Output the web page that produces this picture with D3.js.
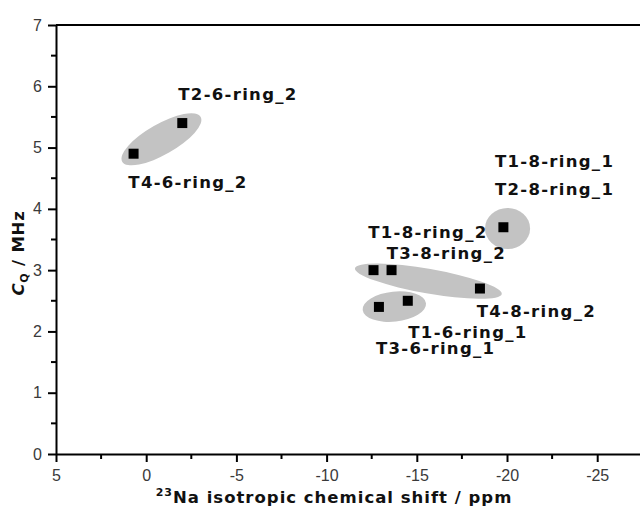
<!DOCTYPE html>
<html>
<head>
<meta charset="utf-8">
<script src="https://cdn.jsdelivr.net/npm/d3@7"></script>
<style>
  html, body { margin: 0; padding: 0; background: #fff; }
  svg { display: block; }
</style>
</head>
<body>
<svg id="chart" width="640" height="507"></svg>
<script>
// 23Na NMR parameters for the Na sites (isotropic shift in ppm, quadrupolar coupling CQ in MHz)
const siteNames = ["T4-6-ring_2", "T2-6-ring_2", "T1/T2-8-ring_1",
                   "T1-8-ring_2", "T3-8-ring_2", "T4-8-ring_2",
                   "T3-6-ring_1", "T1-6-ring_1"];
const isoShift = [0.7, -2.0, -19.8, -12.6, -13.6, -18.5, -12.9, -14.5];
const cq       = [4.9, 5.4, 3.7, 3.0, 3.0, 2.7, 2.4, 2.5];

// Site labels and the data coordinates where each label starts (baseline)
const labelText = ["T2-6-ring_2", "T4-6-ring_2", "T1-8-ring_1", "T2-8-ring_1",
                   "T1-8-ring_2", "T3-8-ring_2", "T4-8-ring_2", "T1-6-ring_1", "T3-6-ring_1"];
const labelX = [-1.78, 0.99, -19.33, -19.33, -12.31, -13.33, -18.32, -14.53, -12.74];
const labelY = [5.78, 4.34, 4.69, 4.22, 3.52, 3.18, 2.24, 1.90, 1.63];

// Shaded groups: ends of the long axis (ppm, MHz) and half-width (MHz)
const groupX0 = [1.33, -18.78, -11.57, -12.0];
const groupY0 = [4.77, 3.68, 3.03, 2.35];
const groupX1 = [-3.02, -21.28, -19.71, -15.51];
const groupY1 = [5.50, 3.68, 2.61, 2.46];
const groupHalfWidth = [0.25, 0.335, 0.2, 0.245];

// Axis ticks
const xMajorTicks = [5, 0, -5, -10, -15, -20, -25];
const xMinorTicks = [2.5, -2.5, -7.5, -12.5, -17.5, -22.5];
const yMajorTicks = [0, 1, 2, 3, 4, 5, 6, 7];
const yMinorTicks = [0.5, 1.5, 2.5, 3.5, 4.5, 5.5, 6.5];

const svg = d3.select("#chart");

const x = d3.scaleLinear().domain([5, -27.4]).range([56, 640.5]);
const y = d3.scaleLinear().domain([0, 7]).range([454, 25]);

const tickFont = "'Liberation Sans', Arial, sans-serif";
const boldFont = "'DejaVu Sans', Verdana, sans-serif";

// Shaded ellipses
const gGroups = svg.append("g");
groupX0.forEach((_, i) => {
  const px0 = x(groupX0[i]), py0 = y(groupY0[i]);
  const px1 = x(groupX1[i]), py1 = y(groupY1[i]);
  const cx = (px0 + px1) / 2, cy = (py0 + py1) / 2;
  const rx = Math.hypot(px1 - px0, py1 - py0) / 2;
  const ry = y(0) - y(groupHalfWidth[i]);
  const ang = Math.atan2(py1 - py0, px1 - px0) * 180 / Math.PI;
  gGroups.append("ellipse")
    .attr("cx", 0).attr("cy", 0)
    .attr("rx", rx).attr("ry", ry)
    .attr("transform", `translate(${cx},${cy}) rotate(${ang})`)
    .attr("fill", "#c3c3c3");
});

// Top frame line
svg.append("line")
  .attr("x1", x(5)).attr("x2", x(-27.4))
  .attr("y1", y(7)).attr("y2", y(7))
  .attr("stroke", "#000").attr("stroke-width", 2);

// X axis
const xAxis = svg.append("g")
  .attr("transform", `translate(0,${y(0)})`)
  .call(d3.axisBottom(x).tickValues(xMajorTicks).tickSize(8).tickSizeOuter(0)
        .tickFormat(d3.format("d")).tickPadding(8));
xAxis.append("g").selectAll("line").data(xMinorTicks).join("line")
  .attr("x1", d => x(d)).attr("x2", d => x(d))
  .attr("y1", 0).attr("y2", 5)
  .attr("stroke", "#000").attr("stroke-width", 2);

// Y axis
const yAxis = svg.append("g")
  .attr("transform", `translate(${x(5)},0)`)
  .call(d3.axisLeft(y).tickValues(yMajorTicks).tickSize(8).tickSizeOuter(0)
        .tickFormat(d3.format("d")).tickPadding(6));
yAxis.append("g").selectAll("line").data(yMinorTicks).join("line")
  .attr("x1", 0).attr("x2", -5)
  .attr("y1", d => y(d)).attr("y2", d => y(d))
  .attr("stroke", "#000").attr("stroke-width", 2);

[xAxis, yAxis].forEach(g => {
  g.select(".domain").attr("stroke", "#000").attr("stroke-width", 2);
  g.selectAll(".tick line").attr("stroke", "#000").attr("stroke-width", 2);
  g.selectAll(".tick text")
    .attr("font-family", tickFont).attr("font-size", 16).attr("fill", "#3a3a3a");
});
xAxis.selectAll(".tick text").text(d => d < 0 ? "-" + Math.abs(d) : d);

// Data points
svg.append("g").selectAll("rect").data(isoShift).join("rect")
  .attr("x", (d) => x(d) - 5)
  .attr("y", (d, i) => y(cq[i]) - 5)
  .attr("width", 10).attr("height", 10)
  .attr("fill", "#000");

// Site labels
svg.append("g").selectAll("text").data(labelText).join("text")
  .attr("x", (d, i) => x(labelX[i]))
  .attr("y", (d, i) => y(labelY[i]))
  .attr("font-family", boldFont).attr("font-weight", "bold")
  .attr("font-size", 16.5).attr("letter-spacing", 1.3)
  .attr("fill", "#111")
  .text(d => d);

// X axis title
const xTitle = svg.append("text")
  .attr("x", 334).attr("y", 503)
  .attr("text-anchor", "middle")
  .attr("font-family", boldFont).attr("font-weight", "bold")
  .attr("font-size", 16.5).attr("letter-spacing", 1).attr("fill", "#111");
xTitle.append("tspan").attr("font-size", 11).attr("dy", -7).text("23");
xTitle.append("tspan").attr("dy", 7).text("Na isotropic chemical shift / ppm");

// Y axis title
const yTitle = svg.append("text")
  .attr("transform", "translate(24,253) rotate(-90)")
  .attr("text-anchor", "middle")
  .attr("font-family", boldFont).attr("font-weight", "bold")
  .attr("font-size", 16.5).attr("letter-spacing", 0.8).attr("fill", "#111");
yTitle.append("tspan").attr("font-style", "italic").text("C");
yTitle.append("tspan").attr("font-size", 11).attr("dy", 4).text("Q");
yTitle.append("tspan").attr("dy", -4).text(" / MHz");
</script>
</body>
</html>
